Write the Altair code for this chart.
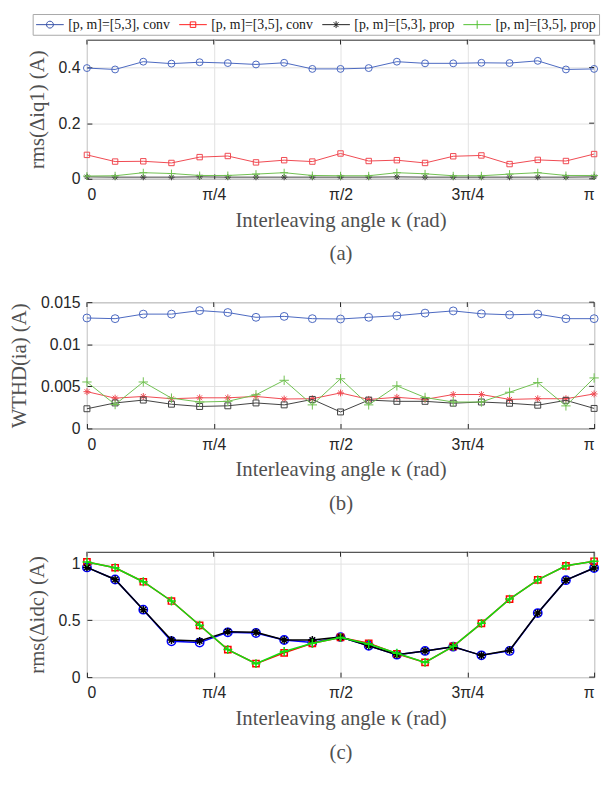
import math
import altair as alt
import pandas as pd

# ---------------- data ----------------
kappa_deg = [0, 10, 20, 30, 40, 50, 60, 70, 80, 90, 100, 110, 120, 130, 140, 150, 160, 170, 180]
series = ["[p, m]=[5,3], conv", "[p, m]=[3,5], conv", "[p, m]=[5,3], prop", "[p, m]=[3,5], prop"]

# (a) rms(Δi_q1)
a_53_conv = [0.398, 0.393, 0.421, 0.414, 0.419, 0.416, 0.411, 0.417, 0.395, 0.395, 0.398,
             0.421, 0.415, 0.415, 0.417, 0.416, 0.424, 0.393, 0.395]
a_35_conv = [0.086, 0.062, 0.063, 0.057, 0.078, 0.082, 0.059, 0.067, 0.062, 0.091, 0.064,
             0.067, 0.057, 0.081, 0.084, 0.053, 0.068, 0.064, 0.089]
a_53_prop = [0.007, 0.006, 0.006, 0.006, 0.007, 0.006, 0.006, 0.006, 0.006, 0.006, 0.006,
             0.007, 0.006, 0.006, 0.006, 0.006, 0.006, 0.006, 0.007]
a_35_prop = [0.010, 0.011, 0.022, 0.019, 0.012, 0.012, 0.017, 0.022, 0.012, 0.011, 0.011,
             0.022, 0.018, 0.011, 0.011, 0.017, 0.022, 0.012, 0.012]

# (b) WTHD(i_a)
b_53_conv = [0.01312, 0.01304, 0.01358, 0.01358, 0.01400, 0.01377, 0.01320, 0.01331, 0.01304, 0.01300,
             0.01320, 0.01339, 0.01370, 0.01396, 0.01362, 0.01350, 0.01358, 0.01304, 0.01304]
b_35_conv = [0.00437, 0.00360, 0.00380, 0.00353, 0.00364, 0.00364, 0.00380, 0.00350, 0.00353, 0.00422,
             0.00345, 0.00370, 0.00345, 0.00403, 0.00403, 0.00345, 0.00353, 0.00353, 0.00410]
b_53_prop = [0.00234, 0.00303, 0.00337, 0.00288, 0.00261, 0.00269, 0.00303, 0.00280, 0.00345, 0.00196,
             0.00337, 0.00322, 0.00322, 0.00300, 0.00314, 0.00299, 0.00276, 0.00334, 0.00238]
b_35_prop = [0.00552, 0.00284, 0.00552, 0.00360, 0.00314, 0.00322, 0.00400, 0.00572, 0.00280, 0.00590,
             0.00280, 0.00506, 0.00368, 0.00314, 0.00314, 0.00430, 0.00545, 0.00268, 0.00600]

# (c) rms(Δi_dc)
c_53_conv = [0.963, 0.857, 0.592, 0.315, 0.303, 0.393, 0.387, 0.326, 0.303, 0.351, 0.275,
             0.197, 0.230, 0.267, 0.191, 0.230, 0.562, 0.851, 0.958]
c_35_conv = [1.011, 0.960, 0.837, 0.668, 0.455, 0.242, 0.118, 0.213, 0.297, 0.348, 0.297,
             0.205, 0.129, 0.270, 0.472, 0.685, 0.853, 0.977, 1.017]
c_53_prop = [0.963, 0.857, 0.592, 0.326, 0.317, 0.399, 0.393, 0.326, 0.326, 0.351, 0.275,
             0.197, 0.230, 0.267, 0.191, 0.236, 0.562, 0.851, 0.958]
c_35_prop = [1.011, 0.960, 0.837, 0.668, 0.455, 0.242, 0.118, 0.225, 0.297, 0.348, 0.290,
             0.210, 0.129, 0.270, 0.472, 0.685, 0.853, 0.977, 1.017]

x_tick_labels = ["0", "π/4", "π/2", "3π/4", "π"]
x_title = "Interleaving angle κ (rad)"
ya_ticks = [0, 0.2, 0.4]
ya_labels = ["0", "0.2", "0.4"]
yb_ticks = [0, 0.005, 0.01, 0.015]
yb_labels = ["0", "0.005", "0.01", "0.015"]
yc_ticks = [0, 0.5, 1]
yc_labels = ["0", "0.5", "1"]

# ---------------- styling ----------------
SERIF = "Liberation Serif"
SANS = "Liberation Sans"
ASTER = "M-1,0L1,0M0,-1L0,1M-0.7,-0.7L0.7,0.7M-0.7,0.7L0.7,-0.7"
PLUS = "M-1,0L1,0M0,-1L0,1"

# legend glyphs: a line with the marker in its middle (unit = 7 px)
leg_paths = [
    "M-1,0L3,0M0.5,0A0.5,0.5,0,1,1,1.5,0A0.5,0.5,0,1,1,0.5,0",
    "M-1,0L3,0M0.6,-0.4L1.4,-0.4L1.4,0.4L0.6,0.4Z",
    "M-1,0L3,0M1,-0.5L1,0.5M0.65,-0.35L1.35,0.35M0.65,0.35L1.35,-0.35",
    "M-1,0L3,0M1,-0.6L1,0.6",
]
leg_colors = ["#3550a8", "#ff2020", "#202020", "#50c030"]

xticks = [0, math.pi / 4, math.pi / 2, 3 * math.pi / 4, math.pi]
x_label_expr = "[" + ",".join("'" + t + "'" for t in x_tick_labels) + "][round(datum.value/(PI/4))]"

W = 514
TICK = "#262626"


def y_label_expr(ticks, labels):
    step = ticks[1] - ticks[0]
    return "[" + ",".join("'" + t + "'" for t in labels) + "][round(datum.value/" + repr(step) + ")]"


def make_df(vals):
    rows = []
    for sid, arr in enumerate(vals):
        for d, v in zip(kappa_deg, arr):
            rows.append({"kappa": d * math.pi / 180, "value": v, "sid": sid, "series": series[sid]})
    return pd.DataFrame(rows)


def panel(vals, colors, shapes, sizes, sw, ytitle, ydomain, yticks, ylabels, height, caption, legend=False):
    df = make_df(vals)
    xs = alt.Scale(domain=[0, math.pi], nice=False, zero=False)
    ys = alt.Scale(domain=ydomain, nice=False, zero=False)
    main_x = alt.Axis(values=xticks, labelExpr=x_label_expr, title=[x_title, caption],
                      grid=True, domain=False, ticks=True, tickSize=5, offset=-5,
                      labelPadding=8, titlePadding=7, titleLineHeight=34, labelOverlap=False)
    main_y = alt.Axis(values=yticks, labelExpr=y_label_expr(yticks, ylabels), title=ytitle,
                      grid=True, domain=False, ticks=True, tickSize=5, offset=-5,
                      labelPadding=7, titlePadding=11, labelOverlap=False)
    X = alt.X("kappa:Q", scale=xs, axis=main_x)
    Y = alt.Y("value:Q", scale=ys, axis=main_y)
    layers = []
    # inward ticks on the top and right edges of the frame
    top_ticks = alt.Chart(pd.DataFrame({"kappa": xticks})).mark_tick(
        color=TICK, size=5, thickness=1, opacity=1).encode(x=X, y=alt.value(2.5))
    right_ticks = alt.Chart(pd.DataFrame({"value": yticks})).mark_tick(
        color=TICK, size=5, thickness=1, opacity=1).encode(y=Y, x=alt.value(W - 2.5))
    layers += [top_ticks, right_ticks]
    for sid in range(4):
        base = alt.Chart(df).transform_filter(alt.datum.sid == sid)
        line = base.mark_line(color=colors[sid], strokeWidth=sw).encode(x=X, y=Y)
        pts = base.mark_point(shape=shapes[sid], size=sizes[sid], filled=False,
                              color=colors[sid], strokeWidth=sw, opacity=1).encode(x=X, y=Y)
        layers += [line, pts]
    if legend:
        leg = alt.Chart(df).mark_point(filled=False, clip=True, strokeWidth=1, opacity=1).encode(
            x=alt.value(5), y=alt.value(-300),
            color=alt.Color("series:N", scale=alt.Scale(domain=series, range=leg_colors),
                            legend=alt.Legend(
                                orient="none", legendX=-55, legendY=-26, direction="horizontal",
                                columns=4, title=None, symbolSize=196, symbolStrokeWidth=1,
                                labelOffset=18, columnPadding=6, padding=3,
                                strokeColor="#a8a8a8", fillColor="white",
                                labelFont=SERIF, labelFontSize=14, labelColor="#202020",
                                labelLimit=300)),
            shape=alt.Shape("series:N", scale=alt.Scale(domain=series, range=leg_paths)),
        )
        layers.append(leg)
    return alt.layer(*layers).properties(width=W, height=height)


pa = panel([a_53_conv, a_35_conv, a_53_prop, a_35_prop],
           ["#4a68c0", "#f04850", "#404040", "#70c050"],
           ["circle", "square", ASTER, PLUS], [49, 30, 40, 64], 1,
           "rms(Δiq1) (A)", [0, 0.5], ya_ticks, ya_labels, 141, "(a)", legend=True)
pb = panel([b_53_conv, b_35_conv, b_53_prop, b_35_prop],
           ["#4a68c0", "#f04850", "#404040", "#70c050"],
           ["circle", ASTER, "square", PLUS], [64, 49, 36, 90], 1,
           "WTHD(ia) (A)", [0, 0.015], yb_ticks, yb_labels, 128, "(b)")
pc = panel([c_53_conv, c_35_conv, c_53_prop, c_35_prop],
           ["#0000ff", "#ff0000", "#000000", "#10e010"],
           ["circle", "square", ASTER, PLUS], [72, 40, 64, 81], 1.5,
           "rms(Δidc) (A)", [0, 1.1], yc_ticks, yc_labels, 127, "(c)")

chart = alt.vconcat(pa, pb, pc, spacing=125, bounds="flush").properties(
    padding={"left": 0, "top": 0, "right": 0, "bottom": 0}
).configure_view(stroke="#262626", strokeWidth=1).configure_axis(
    labelFont=SANS, labelFontSize=16, labelColor="#262626",
    titleFont=SERIF, titleFontSize=21, titleColor="#505050", titleFontWeight="normal",
    gridColor="#e2e2e2", gridWidth=1, tickColor=TICK, tickWidth=1,
).configure_legend(symbolStrokeWidth=1)

chart.save("out.html", embed_options={"renderer": "svg", "actions": False})
